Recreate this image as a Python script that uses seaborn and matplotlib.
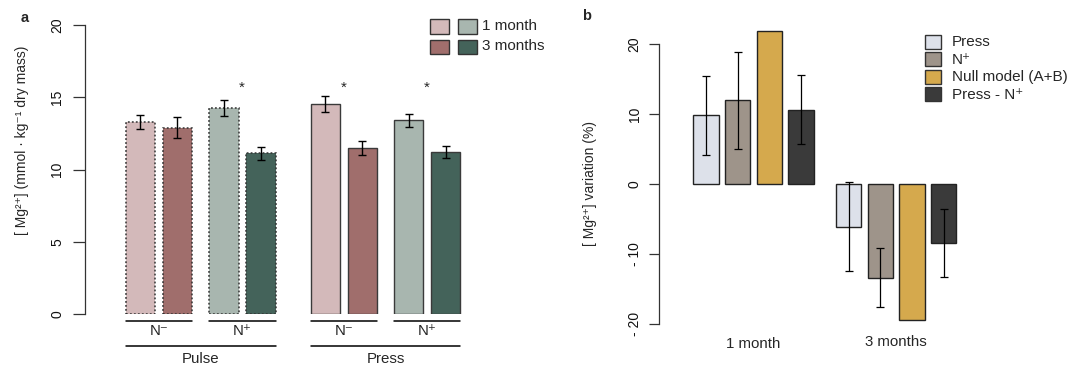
import numpy as np
import pandas as pd
import matplotlib
matplotlib.use("Agg")
import matplotlib.pyplot as plt
from matplotlib.patches import Rectangle
import seaborn as sns

# ---------------- data ----------------
months = ["1 month", "3 months"]
n_labels = ["N⁻", "N⁺"]
regimes = ["Pulse", "Press"]

# panel a: order N- 1m, N- 3m, N+ 1m, N+ 3m
pulse_mean = [13.27, 12.90, 14.23, 11.12]
pulse_se = [0.50, 0.72, 0.55, 0.43]
press_mean = [14.53, 11.49, 13.40, 11.21]
press_se = [0.57, 0.50, 0.44, 0.42]
a_keys = ["N-|1 month", "N-|3 months", "N+|1 month", "N+|3 months"]
a_colors = {"N-|1 month": "#d3b9ba", "N-|3 months": "#a06e6c",
            "N+|1 month": "#a8b6af", "N+|3 months": "#44635a"}

# panel b
b_series = ["Press", "N⁺", "Null model (A+B)", "Press - N⁺"]
b_1m = [9.85, 11.93, 21.9, 10.62]
b_1m_err = [5.65, 6.93, np.nan, 4.95]
b_3m = [-6.08, -13.4, -19.4, -8.45]
b_3m_err = [6.3, 4.2, np.nan, 4.85]
b_colors = ["#dde1ea", "#9e948a", "#d5a94d", "#3a3a3a"]
b_ticks = [-20, -10, 0, 10, 20]
b_ticklabels = ["- 20", "- 10", "0", "10", "20"]

# ---------------- style ----------------
sns.set_style("white")
FAM = ["Liberation Sans", "DejaVu Sans"]
plt.rcParams["font.family"] = FAM

W, H = 1081, 367
fig = plt.figure(figsize=(W / 100, H / 100), dpi=100)


def place(ax, left, right, top, bottom):
    ax.set_position([left / W, 1 - bottom / H, (right - left) / W, (bottom - top) / H])


def rect_px(x0, y0, x1, y1, color, ec="#333333"):
    fig.add_artist(Rectangle((x0 / W, 1 - y1 / H), (x1 - x0) / W, (y1 - y0) / H,
                             transform=fig.transFigure, facecolor=color,
                             edgecolor=ec, linewidth=1.0))


def fig_text(x, y, s, **kw):
    fig.text(x / W, 1 - y / H, s, **kw)


# ---------------- panel a ----------------
axa = fig.add_axes([0, 0, 1, 1])
pos_pulse = [0.0, 1.0, 2.25, 3.25]
pos_press = [5.0, 6.0, 7.25, 8.25]

df_pulse = pd.DataFrame({"pos": pos_pulse, "val": pulse_mean, "key": a_keys})
df_press = pd.DataFrame({"pos": pos_press, "val": press_mean, "key": a_keys})

sns.barplot(data=df_pulse, x="pos", y="val", hue="key", palette=a_colors,
            native_scale=True, dodge=False, errorbar=None, legend=False,
            saturation=1, width=0.8, ax=axa, edgecolor="#333333",
            linewidth=1.1, linestyle=(0, (1.2, 1.4)))
sns.barplot(data=df_press, x="pos", y="val", hue="key", palette=a_colors,
            native_scale=True, dodge=False, errorbar=None, legend=False,
            saturation=1, width=0.8, ax=axa, edgecolor="#3a3a3a",
            linewidth=1.0)
axa.errorbar(pos_pulse + pos_press, pulse_mean + press_mean,
             yerr=pulse_se + press_se, fmt="none", ecolor="black",
             elinewidth=1.0, capsize=3.0, capthick=1.0)

place(axa, 85, 545, 25, 314)
axa.set_xlim(-1.5, (545 - 140.4) / 37)
axa.set_ylim(0, 20)
axa.set_xlabel("")
axa.set_ylabel("")
axa.set_xticks([])
for s in ["top", "right", "bottom"]:
    axa.spines[s].set_visible(False)
axa.spines["left"].set_bounds(0, 20)
axa.spines["left"].set_color("#333333")
axa.spines["left"].set_linewidth(0.9)
axa.set_yticks([0, 5, 10, 15, 20])
axa.tick_params(axis="y", left=True, length=9, width=0.9, color="#333333",
                pad=6, labelsize=10, labelcolor="#111111")
for lab in axa.get_yticklabels():
    lab.set_rotation(90)
    lab.set_va("center")

# stars
for p in [(pos_pulse[2] + pos_pulse[3]) / 2, (pos_press[0] + pos_press[1]) / 2,
          (pos_press[2] + pos_press[3]) / 2]:
    axa.text(p, 15.35, "*", ha="center", va="baseline", fontsize=11)

# group annotations
for base in (pos_pulse, pos_press):
    for i, nl in enumerate(n_labels):
        a0, a1 = base[2 * i] - 0.4, base[2 * i + 1] + 0.4
        axa.plot([a0, a1], [-0.46, -0.46], color="black", lw=1.1, clip_on=False)
        axa.text((a0 + a1) / 2, -1.18, nl, ha="center", va="center",
                 fontsize=10.8, family=FAM)
    axa.plot([base[0] - 0.4, base[3] + 0.4], [-2.19, -2.19], color="black",
             lw=1.1, clip_on=False)
axa.text((pos_pulse[0] + pos_pulse[3]) / 2, -3.1, regimes[0], ha="center",
         va="center", fontsize=10.8)
axa.text((pos_press[0] + pos_press[3]) / 2, -3.1, regimes[1], ha="center",
         va="center", fontsize=10.8)

# legend a
rect_px(430, 19.5, 449, 33.5, a_colors["N-|1 month"])
rect_px(458, 19.5, 477, 33.5, a_colors["N+|1 month"])
rect_px(430, 39.5, 449, 54, a_colors["N-|3 months"])
rect_px(458, 39.5, 477, 54, a_colors["N+|3 months"])
fig_text(482, 26.5, months[0], ha="left", va="center", fontsize=11)
fig_text(482, 46.5, months[1], ha="left", va="center", fontsize=11)

fig_text(22, 140, "[ Mg²⁺] (mmol · kg⁻¹ dry mass)", rotation=90,
         ha="center", va="center", fontsize=10, family=FAM)
fig_text(25, 18, "a", ha="center", va="center", fontsize=10.5, fontweight="bold")

# ---------------- panel b ----------------
axb = fig.add_axes([0, 0, 1, 1])
pos_1m = [0.0, 1.0, 2.0, 3.0]
pos_3m = [4.5, 5.5, 6.5, 7.5]
df_b = pd.DataFrame({"pos": pos_1m + pos_3m, "val": b_1m + b_3m,
                     "key": b_series + b_series})
sns.barplot(data=df_b, x="pos", y="val", hue="key",
            palette=dict(zip(b_series, b_colors)), native_scale=True,
            dodge=False, errorbar=None, legend=False, saturation=1, width=0.8,
            ax=axb, edgecolor="#222222", linewidth=1.0)
ex = np.array(pos_1m + pos_3m)
ey = np.array(b_1m + b_3m)
ee = np.array(b_1m_err + b_3m_err)
ok = ~np.isnan(ee)
axb.errorbar(ex[ok], ey[ok], yerr=ee[ok], fmt="none", ecolor="black",
             elinewidth=0.9, capsize=2.6, capthick=0.9)

place(axb, 659, 1075, 20, 324)
axb.set_xlim(-1.483, (1075 - 706) / 31.7)
axb.set_ylim(-20, (184 - 20) / 7)
axb.set_xlabel("")
axb.set_ylabel("")
axb.set_xticks([])
for s in ["top", "right", "bottom"]:
    axb.spines[s].set_visible(False)
axb.spines["left"].set_bounds(-20, 20)
axb.spines["left"].set_color("#333333")
axb.spines["left"].set_linewidth(0.9)
axb.set_yticks(b_ticks)
axb.set_yticklabels(b_ticklabels)
axb.tick_params(axis="y", left=True, length=7.5, width=0.9, color="#333333",
                pad=5, labelsize=10, labelcolor="#111111")
for lab in axb.get_yticklabels():
    lab.set_rotation(90)
    lab.set_va("center")

axb.text(np.mean(pos_1m), -22.9, months[0], ha="center", va="center", fontsize=10.8)
axb.text(np.mean(pos_3m), -22.6, months[1], ha="center", va="center", fontsize=10.8)

# legend b
ys = [35, 52.5, 70, 87.5]
for yy, c, lab in zip(ys, b_colors, b_series):
    rect_px(925, yy, 941, yy + 13.5, c)
    fig_text(952, yy + 7, lab, ha="left", va="center", fontsize=11, family=FAM)

fig_text(590, 183.5, "[ Mg²⁺] variation (%)", rotation=90, ha="center",
         va="center", fontsize=10, family=FAM)
fig_text(587, 16, "b", ha="center", va="center", fontsize=10.5, fontweight="bold")

fig.savefig("out.png", dpi=100)
